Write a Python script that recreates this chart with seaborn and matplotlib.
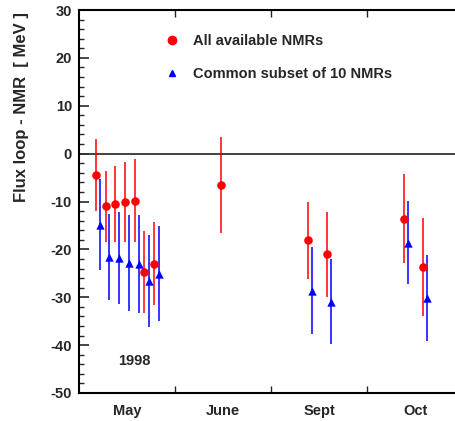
import numpy as np
import matplotlib
matplotlib.use("Agg")
import matplotlib.pyplot as plt
from matplotlib.lines import Line2D
from matplotlib.ticker import MultipleLocator, FixedLocator
import seaborn as sns

# Data (x in month slots: May 0-1, June 1-2, Sept 2-3, Oct 3-4)
all_x = [0.174, 0.278, 0.378, 0.476, 0.58, 0.68, 0.778, 1.479, 2.385, 2.583, 3.385, 3.583]
all_y = [-4.5, -11.0, -10.5, -10.1, -9.8, -24.7, -23.0, -6.5, -18.1, -21.0, -13.6, -23.7]
all_err = [7.5, 7.4, 8.0, 8.4, 8.6, 8.5, 8.7, 10.0, 8.0, 8.9, 9.3, 10.3]

sub_x = [0.219, 0.316, 0.417, 0.518, 0.622, 0.729, 0.833, 2.424, 2.622, 3.43, 3.622]
sub_y = [-14.9, -21.6, -21.8, -22.9, -23.1, -26.7, -25.1, -28.6, -30.9, -18.6, -30.2]
sub_err = [9.5, 9.0, 9.7, 10.0, 10.2, 9.6, 9.9, 9.0, 8.9, 8.7, 9.0]

months = ["May", "June", "Sept", "Oct"]
month_pos = [0.5, 1.5, 2.5, 3.5]

sns.set_theme(style="ticks")
plt.rcParams['font.family'] = ['Liberation Sans', 'DejaVu Sans']
plt.rcParams['font.weight'] = 'bold'
plt.rcParams['axes.unicode_minus'] = False

fig = plt.figure(figsize=(4.55, 4.21), dpi=100)
ax = fig.add_axes([79 / 455, 1 - 393 / 421, 384 / 455, 383 / 421])

ax.axhline(0, color="#333333", lw=1.3, zorder=1)

# error bars
ax.errorbar(all_x, all_y, yerr=all_err, fmt='none', ecolor='red', elinewidth=1.1, zorder=2)
ax.errorbar(sub_x, sub_y, yerr=sub_err, fmt='none', ecolor='blue', elinewidth=1.1, zorder=2)

# markers
sns.scatterplot(x=all_x, y=all_y, ax=ax, color='red', marker='o', s=38,
                edgecolor='red', linewidth=0, zorder=3)
sns.scatterplot(x=sub_x, y=sub_y, ax=ax, color='blue', marker='^', s=36,
                edgecolor='blue', linewidth=0, zorder=3)

ax.set_xlim(0, 4)
ax.set_ylim(-50, 30)

# y axis ticks
ax.yaxis.set_major_locator(MultipleLocator(10))
ax.yaxis.set_minor_locator(MultipleLocator(2))
ax.tick_params(axis='y', which='major', direction='in', length=7, width=1.2,
               labelsize=10.5, pad=5)
ax.tick_params(axis='y', which='minor', direction='in', length=3.5, width=1.0)

# x axis: ticks at boundaries, labels at month centers
ax.xaxis.set_major_locator(FixedLocator([1, 2, 3]))
ax.xaxis.set_minor_locator(FixedLocator(month_pos))
ax.set_xticklabels([])
ax.set_xticklabels(months, minor=True)
ax.tick_params(axis='x', which='major', direction='in', length=5, width=1.0,
               top=True, bottom=True)
ax.tick_params(axis='x', which='minor', length=0, labelsize=10.5, pad=8)

for lbl in ax.get_yticklabels() + ax.get_xticklabels(minor=True):
    lbl.set_fontweight('bold')

for s in ax.spines.values():
    s.set_linewidth(1.5)
    s.set_color('black')

fig.text(22 / 455, 1 - 107 / 421, "Flux loop - NMR  [ MeV ]", rotation=90,
         fontsize=12, fontweight='bold', ha='center', va='center')

ax.text(0.573, -43.3, "1998", fontsize=10.5, fontweight='bold', ha='center', va='center')

handles = [
    Line2D([], [], ls='none', marker='o', color='red', markersize=6),
    Line2D([], [], ls='none', marker='^', color='blue', markersize=5),
]
ax.legend(handles, ["All available NMRs", "Common subset of 10 NMRs"],
          loc='upper left', bbox_to_anchor=(0.19, 0.972), frameon=False,
          labelspacing=1.3, handlelength=1.0, handletextpad=0.9,
          prop={'weight': 'bold', 'size': 10.5})

fig.savefig("out.png", dpi=100)
